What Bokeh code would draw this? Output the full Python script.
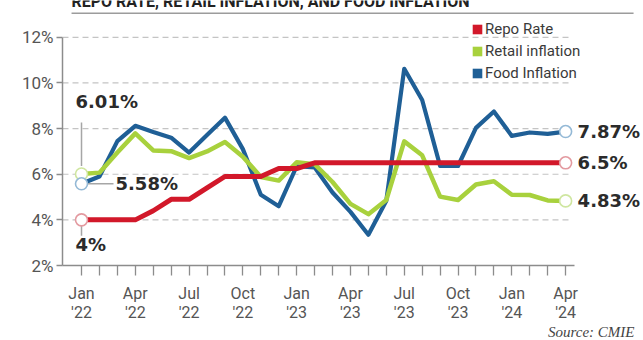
import math
from bokeh.plotting import figure
from bokeh.layouts import column
from bokeh.models import (ColumnDataSource, FixedTicker, PrintfTickFormatter,
                          Legend, LegendItem, Label, Range1d)
from bokeh.embed import file_html
from bokeh.resources import INLINE
from bokeh.core.properties import value

# ---- data: monthly, Jan 2022 .. Apr 2024 ----
months = ["Jan '22", "Feb '22", "Mar '22", "Apr '22", "May '22", "Jun '22",
          "Jul '22", "Aug '22", "Sep '22", "Oct '22", "Nov '22", "Dec '22",
          "Jan '23", "Feb '23", "Mar '23", "Apr '23", "May '23", "Jun '23",
          "Jul '23", "Aug '23", "Sep '23", "Oct '23", "Nov '23", "Dec '23",
          "Jan '24", "Feb '24", "Mar '24", "Apr '24"]

repo_rate = [4.0, 4.0, 4.0, 4.0, 4.4, 4.9, 4.9, 5.4, 5.9, 5.9, 5.9, 6.25,
             6.25, 6.5, 6.5, 6.5, 6.5, 6.5, 6.5, 6.5, 6.5, 6.5, 6.5, 6.5,
             6.5, 6.5, 6.5, 6.5]

retail_inflation = [6.01, 6.07, 6.95, 7.79, 7.04, 7.01, 6.71, 7.00, 7.41, 6.77, 5.88, 5.72,
                    6.52, 6.44, 5.66, 4.70, 4.25, 4.87, 7.44, 6.83, 5.02, 4.87, 5.55, 5.69,
                    5.10, 5.09, 4.85, 4.83]

food_inflation = [5.58, 5.90, 7.45, 8.12, 7.85, 7.60, 6.95, 7.72, 8.48, 7.10, 5.10, 4.60,
                  6.35, 6.30, 5.20, 4.35, 3.35, 4.84, 10.62, 9.25, 6.36, 6.36, 8.03, 8.75,
                  7.68, 7.83, 7.77, 7.87]

quarter_labels = ["Jan\n'22", "Apr\n'22", "Jul\n'22", "Oct\n'22", "Jan\n'23",
                  "Apr\n'23", "Jul\n'23", "Oct\n'23", "Jan\n'24", "Apr\n'24"]
y_ticks = [2, 4, 6, 8, 10, 12]

title_text = "REPO RATE, RETAIL INFLATION, AND FOOD INFLATION"
source_text = "Source: CMIE"

# ---- styling ----
RED, GREEN, BLUE = "#d2182a", "#a8d13d", "#1f5f96"
RED_PALE, GREEN_PALE, BLUE_PALE = "#e39aa0", "#cfe6a0", "#94b9d6"
LABEL_DARK = "#2b2b2b"
LEADER = "#a6a6a6"

W = 643
HEAD_H = 14
MAIN_H = 310
FOOT_H = 16
LEFT, BOTTOM = 62, 57
PX_MONTH = 17.93         # horizontal pixels per month
PX_UNIT = 23.0           # vertical pixels per percentage point
X0 = -1.06
X1 = X0 + (W - LEFT) / PX_MONTH
Y0 = 2.0
Y1 = Y0 + (MAIN_H - BOTTOM) / PX_UNIT

def dx(px):
    return px / PX_MONTH

def dy(px):
    return px / PX_UNIT

def pct(v):
    return f"{v:g}%"

def bare(fig):
    fig.axis.visible = False
    fig.grid.visible = False
    fig.outline_line_color = None

x = list(range(len(months)))
last = len(months) - 1

# ---- header strip: headline (cut by the strip's top edge) and rule ----
head = figure(width=W, height=HEAD_H, x_range=Range1d(0, W), y_range=Range1d(0, HEAD_H),
              toolbar_location=None, output_backend="svg",
              min_border_left=0, min_border_right=0, min_border_top=0, min_border_bottom=0)
bare(head)
head.text(x=[10], y=[13], text=[title_text], text_font=value("Roboto"),
          text_font_style="bold", text_font_size="16px", text_color="#222222",
          text_baseline="alphabetic", text_align="left")
head.segment(x0=[10], y0=[1], x1=[632], y1=[1], line_color="#9c9c9c", line_width=2)

# ---- main chart ----
p = figure(width=W, height=MAIN_H, x_range=Range1d(X0, X1), y_range=Range1d(Y0, Y1),
           toolbar_location=None, output_backend="svg",
           min_border_left=LEFT, min_border_right=0,
           min_border_top=0, min_border_bottom=BOTTOM)
p.outline_line_color = None
p.background_fill_color = "white"

src = ColumnDataSource(dict(x=x, month=months, repo=repo_rate,
                            retail=retail_inflation, food=food_inflation))

# axes
p.xaxis.ticker = FixedTicker(ticks=x)
p.xaxis.major_label_overrides = {i: (quarter_labels[i // 3] if i % 3 == 0 else "") for i in x}
p.xaxis.bounds = (X0, last + 0.5)
p.xaxis.minor_tick_line_color = None
p.xaxis.major_tick_in = 0
p.xaxis.major_tick_out = 10
p.xaxis.major_label_standoff = 8
p.xaxis.major_label_text_font = "Roboto"
p.xaxis.major_label_text_font_size = "16px"
p.xaxis.major_label_text_line_height = 1.0
p.xaxis.major_label_text_color = "#555555"

p.yaxis.ticker = FixedTicker(ticks=y_ticks)
p.yaxis.formatter = PrintfTickFormatter(format="%d%%")
p.yaxis.bounds = (y_ticks[0], y_ticks[-1])
p.yaxis.minor_tick_line_color = None
p.yaxis.major_tick_in = 0
p.yaxis.major_tick_out = 6
p.yaxis.major_label_standoff = 3
p.yaxis.major_label_text_font = "Roboto"
p.yaxis.major_label_text_font_size = "17px"
p.yaxis.major_label_text_color = "#555555"

for ax in (p.xaxis, p.yaxis):
    ax.axis_line_color = "#8c8c8c"
    ax.axis_line_width = 1.5
    ax.major_tick_line_color = "#8c8c8c"
    ax.major_tick_line_width = 1.3

# dashed horizontal guides, stopping just past the last month
p.grid.visible = False
grid_y = y_ticks[1:]
p.segment(x0=[X0] * len(grid_y), y0=grid_y, x1=[last + dx(5)] * len(grid_y), y1=grid_y,
          line_color="#c4c4c4", line_width=1.2, line_dash="6 4")

# series lines
p.line("x", "food", source=src, line_color=BLUE, line_width=4.2, line_join="round")
p.line("x", "retail", source=src, line_color=GREEN, line_width=4.5, line_join="round")
p.line("x", "repo", source=src, line_color=RED, line_width=5, line_join="round")

# leader lines for the opening values
p.segment(x0=[0], y0=[retail_inflation[0] + dy(8)], x1=[0], y1=[retail_inflation[0] + dy(52)],
          line_color=LEADER, line_width=1.5)
p.segment(x0=[dx(6)], y0=[food_inflation[0]], x1=[dx(32)], y1=[food_inflation[0]],
          line_color=LEADER, line_width=1.5)
p.segment(x0=[0], y0=[repo_rate[0] - dy(6)], x1=[0], y1=[repo_rate[0] - dy(16)],
          line_color=LEADER, line_width=1.5)

# end-point markers
for series, pale in ((retail_inflation, GREEN_PALE), (food_inflation, BLUE_PALE), (repo_rate, RED_PALE)):
    p.scatter(x=[0, last], y=[series[0], series[last]], size=12, marker="circle",
              fill_color="white", line_color=pale, line_width=1.6)

# value labels
def add_label(xv, yv, text, align="left"):
    p.add_layout(Label(x=xv, y=yv, text=text, text_align=align, text_baseline="middle",
                       text_font="DejaVu Sans", text_font_style="bold",
                       text_font_size="18px", text_color=LABEL_DARK))

add_label(-dx(6), retail_inflation[0] + dy(73), pct(retail_inflation[0]))
add_label(dx(34), food_inflation[0], pct(food_inflation[0]))
add_label(-dx(6), repo_rate[0] - dy(25), pct(repo_rate[0]))
add_label(last + dx(12), food_inflation[last], pct(food_inflation[last]))
add_label(last + dx(12), repo_rate[last], pct(repo_rate[last]))
add_label(last + dx(12), retail_inflation[last], pct(retail_inflation[last]))

# legend with square swatches (swatch renderers carry no visible point)
nan = math.nan
sw_red = p.rect(x=[nan], y=[nan], width=1, height=1, fill_color=RED, line_color=None)
sw_green = p.rect(x=[nan], y=[nan], width=1, height=1, fill_color=GREEN, line_color=None)
sw_blue = p.rect(x=[nan], y=[nan], width=1, height=1, fill_color=BLUE, line_color=None)
legend = Legend(items=[LegendItem(label="Repo Rate", renderers=[sw_red]),
                       LegendItem(label="Retail inflation", renderers=[sw_green]),
                       LegendItem(label="Food Inflation", renderers=[sw_blue])],
                location=(409, 182), orientation="vertical",
                glyph_width=12, glyph_height=12, label_height=20, label_standoff=2,
                spacing=2, padding=0, margin=0,
                label_text_font="Roboto", label_text_font_size="15px",
                label_text_color="#3a3a3a",
                border_line_color=None, background_fill_alpha=0)
p.add_layout(legend)

# ---- footer strip: source note ----
foot = figure(width=W, height=FOOT_H, x_range=Range1d(0, W), y_range=Range1d(0, FOOT_H),
              toolbar_location=None, output_backend="svg",
              min_border_left=0, min_border_right=0, min_border_top=0, min_border_bottom=0)
bare(foot)
foot.text(x=[633], y=[9], text=[source_text], text_font=value("Liberation Serif"),
          text_font_style="italic", text_font_size="15px", text_color="#444444",
          text_baseline="middle", text_align="right")

layout = column(head, p, foot, spacing=0)
open("out.html", "w").write(file_html(layout, INLINE))
